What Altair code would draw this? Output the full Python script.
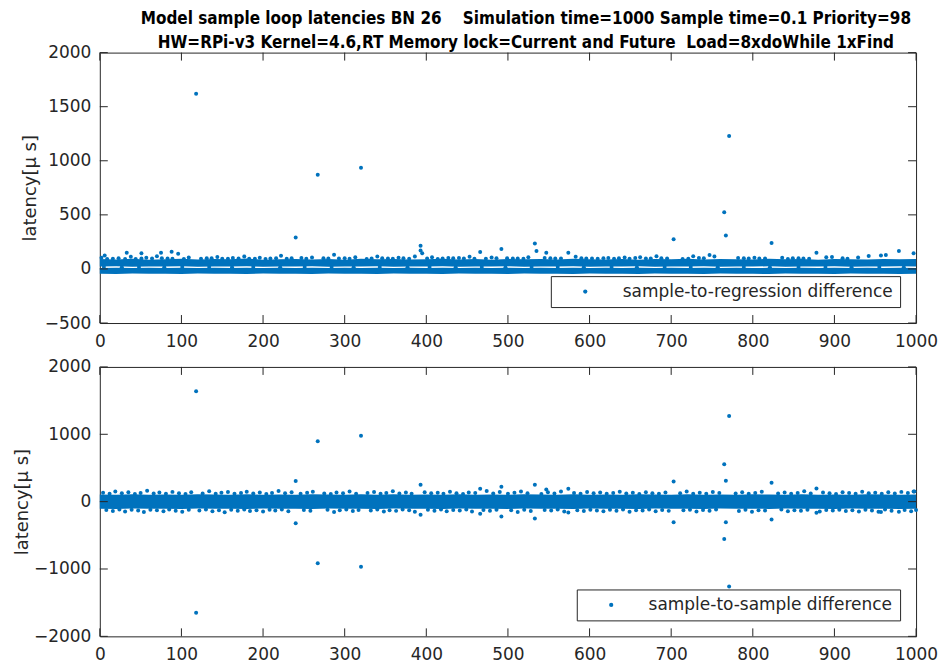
import altair as alt
import pandas as pd

BLUE = "#0072BD"
INK = "#262626"
FONT = "DejaVu Sans"
NB = "\u00a0"

title_lines = [
    "Model sample loop latencies BN 26" + NB * 3 + " Simulation time=1000 Sample time=0.1 Priority=98",
    "HW=RPi-v3 Kernel=4.6,RT Memory lock=Current and Future" + NB + " Load=8xdoWhile 1xFind",
]
y_title = "latency[\u03bc s]"
top_series = "sample-to-regression difference"
bot_series = "sample-to-sample difference"

x_ticks = [0, 100, 200, 300, 400, 500, 600, 700, 800, 900, 1000]
top_yticks = [-500, 0, 500, 1000, 1500, 2000]
bot_yticks = [-2000, -1000, 0, 1000, 2000]

# ---- dense band envelopes (read every 20 s) ----
band_t = [0, 20, 40, 60, 80, 100, 120, 140, 160, 180, 200, 220, 240, 260, 280, 300, 320,
          340, 360, 380, 400, 420, 440, 460, 480, 500, 520, 540, 560, 580, 600, 620, 640,
          660, 680, 700, 720, 740, 760, 780, 800, 820, 840, 860, 880, 900, 920, 940, 960,
          980, 1000]
top_core_lo = [-44, -46, -43, -45, -44, -47, -43, -45, -44, -46, -43, -45, -44, -46, -43, -45, -44,
               -47, -43, -45, -44, -46, -43, -45, -44, -46, -43, -45, -44, -47, -43, -45, -44,
               -46, -43, -45, -44, -46, -43, -45, -44, -47, -43, -45, -44, -46, -43, -45, -44,
               -46, -45]
top_core_hi = [8, 10, 9, 11, 8, 10, 9, 12, 8, 10, 9, 11, 8, 10, 9, 11, 8,
               10, 9, 12, 8, 10, 9, 11, 8, 10, 9, 11, 8, 10, 9, 12, 8,
               10, 9, 11, 8, 10, 9, 11, 8, 10, 9, 12, 8, 10, 9, 11, 8,
               10, 9]
top_up_lo = [22, 24, 21, 23, 22, 25, 21, 23, 22, 24, 21, 23, 22, 24, 21, 23, 22,
             25, 21, 23, 22, 24, 21, 23, 22, 24, 21, 23, 22, 25, 21, 23, 22,
             24, 21, 23, 22, 24, 21, 23, 22, 25, 21, 23, 22, 24, 21, 23, 22,
             24, 23]
top_up_hi = [92, 88, 95, 86, 90, 94, 87, 91, 89, 96, 85, 90, 93, 88, 91, 86, 94,
             89, 92, 87, 90, 95, 88, 91, 86, 93, 89, 92, 87, 94, 90, 88, 93,
             86, 91, 89, 95, 87, 92, 90, 88, 94, 89, 91, 86, 93, 90, 88, 92,
             89, 91]
bot_core_lo = [-104, -108, -102, -106, -105, -110, -103, -107, -104, -109, -102, -106, -105,
               -108, -103, -107, -104, -110, -102, -106, -105, -109, -103, -107, -104, -108,
               -102, -106, -105, -110, -103, -107, -104, -108, -102, -106, -105, -109, -103,
               -107, -104, -108, -102, -106, -105, -110, -103, -107, -104, -108, -106]
bot_core_hi = [106, 102, 109, 104, 107, 103, 110, 105, 102, 108, 104, 107, 103, 109, 105,
               102, 108, 104, 110, 103, 106, 102, 109, 104, 107, 103, 108, 105, 102, 110,
               104, 107, 103, 109, 105, 102, 108, 104, 106, 103, 109, 105, 102, 108, 104,
               107, 103, 110, 105, 102, 106]

# ---- top panel scattered points ----
top_fz_t = [2, 9, 16, 23, 31, 38, 44, 51, 57, 64,
            70, 76, 83, 89, 96, 103, 109, 124, 131, 137,
            144, 150, 157, 163, 170, 177, 183, 190, 196, 203,
            209, 216, 222, 229, 235, 247, 253, 260, 274, 280,
            287, 293, 300, 306, 313, 327, 333, 340, 346, 353,
            359, 366, 372, 379, 386, 401, 407, 414, 420, 427,
            433, 440, 446, 453, 459, 473, 480, 486, 499, 506,
            512, 519, 525, 545, 552, 558, 565, 583, 590, 596,
            610, 623, 636, 649, 662, 675, 688, 714, 727, 740,
            753, 782, 795, 808, 836, 849, 862, 890, 916, 942,
            603, 617, 630, 643, 656, 669, 682, 695, 721, 734,
            747, 789, 802, 815, 843, 856, 869, 897, 910, 929]
top_fz_y = [104, 92, 95, 100, 93, 112, 92, 96, 104, 96,
            118, 100, 97, 94, 140, 93, 106, 95, 98, 99,
            110, 94, 95, 101, 97, 115, 95, 94, 104, 92,
            96, 99, 122, 95, 100, 101, 94, 106, 98, 96,
            132, 96, 99, 95, 109, 93, 96, 116, 100, 97,
            94, 103, 98, 95, 114, 96, 108, 93, 97, 101,
            99, 101, 96, 112, 94, 95, 106, 100, 98, 96,
            96, 94, 108, 101, 100, 97, 96, 113, 100, 96,
            95, 102, 99, 95, 107, 96, 99, 93, 117, 98,
            114, 101, 97, 96, 103, 99, 96, 108, 95, 120,
            97, 100, 94, 105, 101, 96, 118, 96, 94, 102,
            128, 99, 104, 96, 93, 98, 95, 111, 100, 106]
top_gap_t = [5, 27, 48, 79, 101, 134, 162, 188, 221, 251, 284, 311, 343, 377, 404, 436, 468,
             497, 529, 561, 593, 627, 658, 692, 724, 757, 789, 821, 856, 889, 921, 955, 985]
top_gap_y = [17, 15, 18, 16, 19, 17, 15, 18, 16, 17, 19, 15, 18, 16, 17, 15, 19,
             16, 18, 17, 15, 19, 16, 18, 17, 15, 18, 16, 19, 17, 15, 18, 16]
top_out_t = [6, 33, 51, 75, 88, 118, 240, 267, 320, 393, 393, 395, 466, 492, 533, 535, 547,
             574, 703, 765, 767, 771, 823, 878, 957, 963, 979, 997]
top_out_y = [125, 150, 145, 150, 160, 1620, 290, 870, 935, 215, 170, 145, 157, 185, 235, 165,
             150, 150, 275, 525, 310, 1230, 240, 150, 125, 130, 165, 145]

# ---- bottom panel scattered points ----
bot_up_t = [4, 12, 19, 27, 35, 43, 50, 58, 66, 73,
            81, 89, 97, 105, 112, 126, 134, 142, 149, 157,
            165, 173, 180, 188, 196, 204, 211, 219, 227, 235,
            246, 254, 261, 275, 283, 290, 298, 306, 314, 328,
            336, 344, 351, 359, 367, 375, 382, 398, 406, 414,
            421, 429, 437, 445, 452, 460, 474, 482, 490, 500,
            508, 516, 524, 541, 549, 557, 565, 581, 589, 597,
            605, 613, 621, 629, 637, 645, 653, 661, 669, 677,
            685, 693, 711, 719, 727, 735, 743, 751, 759, 779,
            787, 795, 803, 811, 831, 839, 847, 855, 863, 871,
            886, 894, 902, 910, 918, 926, 934, 942, 950, 958,
            966, 974, 982, 990, 998]
bot_up_y = [132, 118, 151, 124, 140, 115, 128, 160, 121, 136,
            117, 145, 126, 113, 138, 122, 155, 119, 131, 142,
            116, 129, 148, 120, 135, 114, 127, 158, 123, 139,
            118, 133, 146, 121, 115, 137, 126, 150, 119, 130,
            143, 117, 128, 154, 122, 135, 116, 141, 125, 132,
            119, 147, 124, 113, 136, 128, 159, 120, 142, 117,
            131, 149, 126, 114, 138, 121, 152, 127, 118, 144,
            123, 135, 116, 129, 147, 120, 133, 115, 140, 126,
            118, 137, 124, 150, 119, 131, 116, 143, 128, 122,
            139, 117, 130, 146, 121, 134, 118, 127, 153, 120,
            136, 124, 115, 141, 129, 119, 148, 125, 133, 117,
            138, 122, 145, 128, 150]
bot_dn_t = [8, 16, 24, 31, 39, 47, 54, 62, 70, 78,
            85, 93, 101, 109, 122, 130, 138, 146, 153, 161,
            169, 177, 184, 192, 200, 208, 215, 223, 231, 250,
            258, 279, 287, 294, 302, 310, 317, 332, 340, 348,
            355, 363, 371, 379, 386, 402, 410, 418, 425, 433,
            441, 449, 456, 470, 478, 486, 504, 512, 520, 528,
            545, 553, 561, 569, 585, 593, 601, 609, 617, 625,
            633, 641, 649, 657, 665, 673, 681, 689, 697, 715,
            723, 731, 739, 747, 755, 783, 791, 799, 807, 815,
            835, 843, 851, 859, 867, 882, 890, 898, 906, 914,
            922, 930, 938, 946, 954, 962, 970, 986, 994, 1000]
bot_dn_y = [-125, -138, -117, -146, -121, -133, -155, -119, -128, -141,
            -116, -135, -149, -122, -130, -118, -144, -127, -157, -120,
            -134, -115, -139, -126, -148, -121, -131, -117, -143, -124,
            -136, -119, -152, -128, -115, -140, -123, -133, -118, -147,
            -126, -137, -116, -129, -150, -121, -134, -118, -142, -125,
            -131, -117, -145, -123, -136, -119, -128, -154, -120, -139,
            -124, -133, -116, -147, -127, -138, -119, -130, -143, -121,
            -135, -118, -149, -126, -132, -117, -141, -123, -137, -128,
            -120, -146, -125, -134, -118, -139, -122, -151, -127, -131,
            -116, -143, -129, -136, -120, -148, -124, -133, -119, -140,
            -127, -145, -121, -132, -150, -118, -136, -125, -141, -123]
bot_out_t = [118, 118, 240, 240, 267, 267, 320, 320, 393, 393, 466, 466, 492, 492, 533, 533,
             547, 574, 574, 703, 703, 765, 765, 767, 767, 771, 771, 823, 823, 878, 878, 957,
             979, 997]
bot_out_y = [1640, -1650, 305, -320, 895, -915, 980, -965, 250, -195, 190, -180, 220, -220,
             250, -250, 180, 190, -160, 300, -305, 555, -555, 310, -305, 1270, -1260, 280,
             -265, 195, -165, -155, -150, 150]

W = 818
H_TOP = 271
H_BOT = 270
TICK = 8


def points_df(ts, ys, name):
    return pd.DataFrame({"t": ts, "y": ys, "series": [name] * len(ts)})


def panel(areas, pts, name, ydomain, yticks, height, legend_offset, extent, tpad, xpad,
          title=None):
    xs = alt.Scale(domain=[0, 1000], nice=False, zero=False)
    ys = alt.Scale(domain=ydomain, nice=False, zero=False)
    xaxis = alt.Axis(values=x_ticks, title=None, grid=False, ticks=False, domain=False,
                     labelPadding=xpad, labelFlush=False, labelOverlap=False, format="d")
    yaxis = alt.Axis(values=yticks, title=y_title, grid=False, ticks=False, domain=False,
                     labelPadding=9, labelFlush=False, labelOverlap=False, format="d",
                     titlePadding=tpad, minExtent=extent, maxExtent=extent)
    layers = []
    for (lo, hi) in areas:
        adf = pd.DataFrame({"t": band_t, "lo": lo, "hi": hi})
        layers.append(
            alt.Chart(adf).mark_area(color=BLUE, opacity=1).encode(
                x=alt.X("t:Q", scale=xs, axis=xaxis),
                y=alt.Y("lo:Q", scale=ys, axis=yaxis),
                y2="hi:Q",
            )
        )
    pdf = pd.concat(pts, ignore_index=True)
    layers.append(
        alt.Chart(pdf).mark_circle(size=16, opacity=1).encode(
            x=alt.X("t:Q", scale=xs, axis=xaxis),
            y=alt.Y("y:Q", scale=ys, axis=yaxis),
            color=alt.Color(
                "series:N",
                scale=alt.Scale(domain=[name], range=[BLUE]),
                legend=alt.Legend(
                    title=None, orient="bottom-right", offset=legend_offset,
                    strokeColor=INK, fillColor="white", padding=7,
                    labelFontSize=17, labelFont=FONT, labelColor=INK, labelLimit=0,
                    symbolType="circle", symbolSize=18, symbolStrokeWidth=0,
                    symbolOffset=19, labelOffset=29, cornerRadius=0,
                ),
            ),
        )
    )
    xt = pd.DataFrame({"v": x_ticks})
    yt = pd.DataFrame({"v": yticks})
    rule = dict(color=INK, strokeWidth=1)
    layers.append(alt.Chart(xt).mark_rule(**rule).encode(
        x=alt.X("v:Q", scale=xs, axis=xaxis), y=alt.value(height), y2=alt.value(height - TICK)))
    layers.append(alt.Chart(xt).mark_rule(**rule).encode(
        x=alt.X("v:Q", scale=xs, axis=xaxis), y=alt.value(0), y2=alt.value(TICK)))
    layers.append(alt.Chart(yt).mark_rule(**rule).encode(
        y=alt.Y("v:Q", scale=ys, axis=yaxis), x=alt.value(0), x2=alt.value(TICK)))
    layers.append(alt.Chart(yt).mark_rule(**rule).encode(
        y=alt.Y("v:Q", scale=ys, axis=yaxis), x=alt.value(W), x2=alt.value(W - TICK)))
    props = dict(width=W, height=height)
    if title is not None:
        props["title"] = title
    return alt.layer(*layers).properties(**props)


top_title = alt.TitleParams(
    text=title_lines, font="DejaVu Sans Condensed", fontSize=17, fontWeight="bold",
    color="black", anchor="middle", dx=18, lineHeight=24, offset=-8, frame="group",
)

top = panel(
    [(top_core_lo, top_core_hi), (top_up_lo, top_up_hi)],
    [points_df(top_gap_t, top_gap_y, top_series),
     points_df(top_fz_t, top_fz_y, top_series),
     points_df(top_out_t, top_out_y, top_series)],
    top_series, [-500, 2000], top_yticks, H_TOP, 16, 52, 8, 11, top_title,
)
bottom = panel(
    [(bot_core_lo, bot_core_hi)],
    [points_df(bot_up_t, bot_up_y, bot_series),
     points_df(bot_dn_t, bot_dn_y, bot_series),
     points_df(bot_out_t, bot_out_y, bot_series)],
    bot_series, [-2000, 2000], bot_yticks, H_BOT, 16, 62, 6, 10,
)

chart = (
    alt.vconcat(top, bottom, spacing=6)
    .resolve_scale(color="independent")
    .resolve_legend(color="independent")
    .properties(padding={"left": 5, "top": 0, "right": 0, "bottom": 0}, background="white")
    .configure_view(stroke=INK, strokeWidth=1)
    .configure_axis(labelFont=FONT, labelFontSize=17, labelColor=INK,
                    titleFont=FONT, titleFontSize=18, titleColor=INK, titleFontWeight="normal")
)

chart.save("out.html", embed_options={"renderer": "svg", "actions": False})
